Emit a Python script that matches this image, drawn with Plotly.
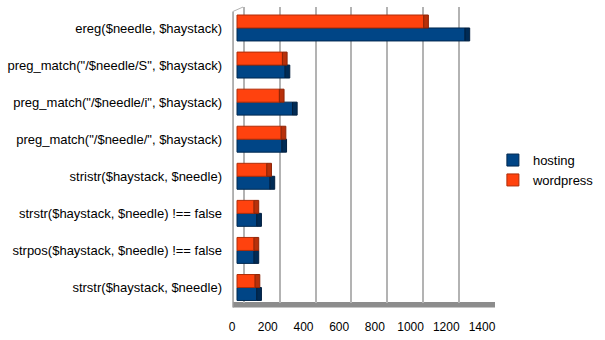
import plotly.graph_objects as go

categories = [
    "ereg($needle, $haystack)",
    "preg_match(\"/$needle/S\", $haystack)",
    "preg_match(\"/$needle/i\", $haystack)",
    "preg_match(\"/$needle/\", $haystack)",
    "stristr($haystack, $needle)",
    "strstr($haystack, $needle) !== false",
    "strpos($haystack, $needle) !== false",
    "strstr($haystack, $needle)",
]
hosting = [1270, 268, 309, 250, 184, 110, 95, 110]
wordpress = [1040, 253, 236, 246, 166, 95, 95, 101]
tick_vals = [0, 200, 400, 600, 800, 1000, 1200, 1400]
tick_text = [str(v) for v in tick_vals]

# display top-to-bottom in the given order
cat_order = list(reversed(categories))

FONT = "Liberation Sans, Arial, sans-serif"
CAP = 26  # depth of the pseudo-3D bar end, in axis units

fig = go.Figure()
fig.add_trace(go.Bar(
    y=categories, x=hosting, orientation="h", name="hosting",
    offsetgroup="h",
    marker=dict(color="#004586", line=dict(color="#00284f", width=1)),
))
fig.add_trace(go.Bar(
    y=categories, x=[CAP] * len(hosting), base=hosting, orientation="h",
    offsetgroup="h", showlegend=False, hoverinfo="skip",
    marker=dict(color="#002b55", line=dict(color="#001f3f", width=1)),
))
fig.add_trace(go.Bar(
    y=categories, x=wordpress, orientation="h", name="wordpress",
    offsetgroup="w",
    marker=dict(color="#ff420e", line=dict(color="#b02d08", width=1)),
))
fig.add_trace(go.Bar(
    y=categories, x=[CAP] * len(wordpress), base=wordpress, orientation="h",
    offsetgroup="w", showlegend=False, hoverinfo="skip",
    marker=dict(color="#b8300a", line=dict(color="#8e2406", width=1)),
))
# invisible helpers for the back-wall grid axis and front label axis
fig.add_trace(go.Scatter(x=[None], y=[None], xaxis="x2", showlegend=False, hoverinfo="skip"))
fig.add_trace(go.Scatter(x=[None], y=[None], xaxis="x3", showlegend=False, hoverinfo="skip"))

fig.update_layout(
    width=605, height=340,
    margin=dict(l=232, r=110, t=7, b=37, autoexpand=False),
    paper_bgcolor="white", plot_bgcolor="white",
    barmode="group", bargap=0.3, bargroupgap=0.0,
    font=dict(family=FONT, size=12, color="#000000"),
    xaxis=dict(range=[-27.9, 1437], showgrid=False, zeroline=False,
               showticklabels=False, showline=False, ticks=""),
    xaxis2=dict(range=[-67, 1402], overlaying="x", anchor="y", side="bottom",
                tickvals=tick_vals, showticklabels=False, showgrid=True,
                gridcolor="#b3b3b3", gridwidth=2, zeroline=False, showline=False,
                ticks="", layer="below traces"),
    xaxis3=dict(range=[-0.5, 1473], overlaying="x", anchor="y", side="bottom",
                tickvals=tick_vals, ticktext=tick_text, showgrid=False,
                zeroline=False, showline=False, ticks="",
                ticklabelstandoff=15, tickfont=dict(size=12, color="#000000")),
    yaxis=dict(categoryorder="array", categoryarray=cat_order,
               range=[-0.418, 7.566], showgrid=False, zeroline=False,
               showline=False, ticks="", ticklabelstandoff=9,
               tickfont=dict(size=13, color="#000000")),
    legend=dict(x=0.992, y=0.449, xanchor="left", yanchor="middle",
                font=dict(size=13, color="#000000"), itemwidth=30,
                tracegroupgap=2, bgcolor="rgba(0,0,0,0)"),
    showlegend=True,
)

# floor slab and left wall (decoration)
fig.add_shape(type="rect", xref="paper", yref="paper",
              x0=0.004, x1=1.0, y0=-0.015, y1=0.003,
              fillcolor="#8c8c8c", line=dict(width=0), layer="below")
fig.add_shape(type="line", xref="paper", yref="paper",
              x0=0.004, x1=0.004, y0=-0.015, y1=0.985,
              line=dict(color="#9a9a9a", width=1.5), layer="below")
fig.add_shape(type="line", xref="paper", yref="paper",
              x0=0.004, x1=0.042, y0=0.985, y1=1.0,
              line=dict(color="#b3b3b3", width=1), layer="below")

fig.write_html("out.html")
